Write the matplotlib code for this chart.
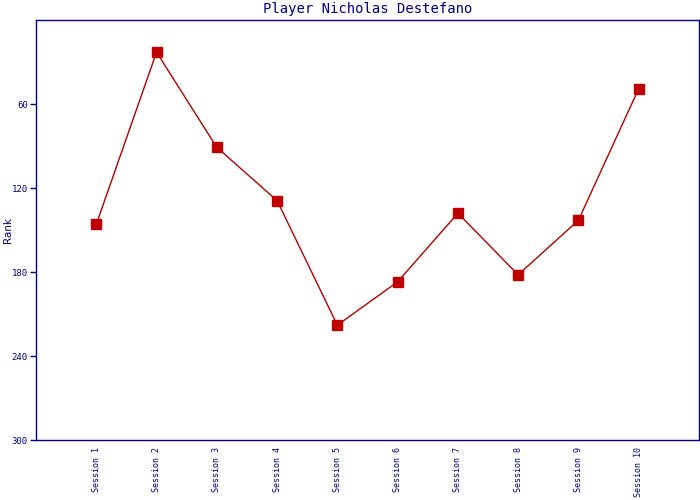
import matplotlib
matplotlib.use("Agg")
import matplotlib.pyplot as plt

# session ranks for the player (lower rank = better, axis inverted)
sessions = ["Session %d" % i for i in range(1, 11)]
ranks = [146, 23, 91, 129, 218, 187, 138, 182, 143, 49]
yticks = [60, 120, 180, 240, 300]

navy = "#000080"
red = "#c00000"

fig = plt.figure(figsize=(7, 5), dpi=100)
ax = fig.add_axes([36 / 700, 60 / 500, 663 / 700, 420 / 500])

x = list(range(len(sessions)))
ax.plot(x, ranks, color="#b00000", linewidth=1.0, marker="s", markersize=7.5,
        markerfacecolor=red, markeredgecolor=red)

ax.set_xlim(-1, 10)
ax.set_ylim(300, 0)
ax.set_yticks(yticks)
ax.set_yticklabels([str(v) for v in yticks], family="DejaVu Sans Mono",
                   fontsize=6.5, color=navy)
ax.set_xticks(x)
ax.set_xticklabels(sessions, rotation=90, family="DejaVu Sans Mono",
                   fontsize=6, color=navy, va="top")
ax.tick_params(axis="x", length=0, pad=5)
ax.tick_params(axis="y", length=4, color=navy, width=1, pad=2)

for s in ax.spines.values():
    s.set_color(navy)
    s.set_linewidth(1)

ax.set_ylabel("Rank", fontsize=7.5, color=navy)
ax.yaxis.set_label_coords(-0.035, 0.5)
ax.set_title("Player Nicholas Destefano", family="DejaVu Sans Mono",
             fontsize=10, color=navy, pad=5)

fig.savefig("out.png", dpi=100)
